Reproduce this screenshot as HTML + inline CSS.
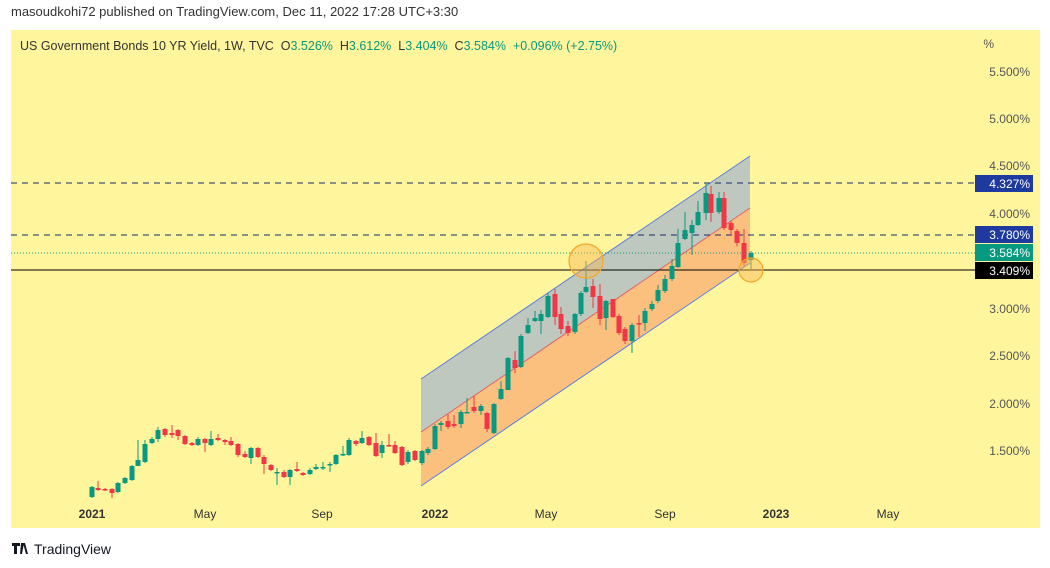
<!DOCTYPE html>
<html><head><meta charset="utf-8"><style>
body{margin:0;width:1050px;height:568px;background:#fff;font-family:"Liberation Sans",sans-serif;overflow:hidden;position:relative}
.hdr{position:absolute;left:11px;top:4px;font-size:13px;color:#333}
</style></head><body>
<div class="hdr">masoudkohi72 published on TradingView.com, Dec 11, 2022 17:28 UTC+3:30</div>
<svg id="c" width="1050" height="568" style="position:absolute;left:0;top:0">
<rect x="11" y="30" width="1029" height="498" fill="#FFF59D"/>
<polygon points="421,379 750,156 750,208 421,432" fill="#BFC8BE"/>
<polygon points="421,432 750,208 750,263 421,486" fill="#FBC07E"/>
<line x1="421" y1="379" x2="750" y2="156" stroke="#5B7FE0" stroke-width="1"/>
<line x1="421" y1="432" x2="750" y2="208" stroke="#E2626A" stroke-width="1"/>
<line x1="421" y1="486" x2="750" y2="263" stroke="#5B7FE0" stroke-width="1"/>
<line x1="11" y1="183" x2="975" y2="183" stroke="#1a2a6a" stroke-dasharray="6,5"/>
<line x1="11" y1="235" x2="975" y2="235" stroke="#1a2a6a" stroke-dasharray="6,5"/>
<line x1="11" y1="253" x2="975" y2="253" stroke="#089981" stroke-dasharray="1,2"/>
<line x1="11" y1="270" x2="975" y2="270" stroke="#000" stroke-width="1"/>
<g id="cd"></g>
<circle cx="586" cy="261" r="17" fill="#F7B955" fill-opacity="0.45" stroke="#F5A623" stroke-width="1.2"/>
<circle cx="751" cy="270" r="12" fill="#F7B955" fill-opacity="0.45" stroke="#F5A623" stroke-width="1.2"/>
<g font-size="12" fill="#555" text-anchor="end">
<text x="1030" y="76">5.500%</text><text x="1030" y="123">5.000%</text><text x="1030" y="170">4.500%</text><text x="1030" y="218">4.000%</text><text x="1030" y="313">3.000%</text><text x="1030" y="360">2.500%</text><text x="1030" y="408">2.000%</text><text x="1030" y="455">1.500%</text>
<text x="994" y="48">%</text>
</g>
<rect x="975" y="175" width="58" height="17" fill="#1E3A9E"/><text x="1030" y="188" font-size="12" fill="#fff" text-anchor="end">4.327%</text>
<rect x="975" y="226" width="58" height="17" fill="#1E3A9E"/><text x="1030" y="239" font-size="12" fill="#fff" text-anchor="end">3.780%</text>
<rect x="975" y="244" width="58" height="17" fill="#089981"/><text x="1030" y="257" font-size="12" fill="#fff" text-anchor="end">3.584%</text>
<rect x="975" y="262" width="58" height="17" fill="#000"/><text x="1030" y="275" font-size="12" fill="#fff" text-anchor="end">3.409%</text>
<g font-size="12" fill="#333" text-anchor="middle" font-weight="bold">
<text x="92" y="518">2021</text><text x="435" y="518">2022</text><text x="776" y="518">2023</text></g>
<g font-size="12" fill="#333" text-anchor="middle">
<text x="205" y="518">May</text><text x="322" y="518">Sep</text><text x="546" y="518">May</text><text x="665" y="518">Sep</text><text x="888" y="518">May</text></g>
<text x="20" y="50" font-size="12.5" fill="#333" style="white-space:pre" xml:space="preserve">US Government Bonds 10 YR Yield, 1W, TVC  O<tspan fill="#089981">3.526%</tspan>  H<tspan fill="#089981">3.612%</tspan>  L<tspan fill="#089981">3.404%</tspan>  C<tspan fill="#089981">3.584%</tspan>  <tspan fill="#089981">+0.096% (+2.75%)</tspan></text>
<path d="M12 543h8v3h-3v8h-3v-8h-2z M21 543h3l-2 11h-2z M25 543l3 11h-2l-3-11z" fill="#131722"/>
<text x="34" y="554" font-size="14" fill="#131722">TradingView</text>
</svg>
<script>
var d=[[92,497,487,498,486],[98,488,490,481,491],[105,489,490,488,491],[112,489,493,488,498],[118,492,483,493,482],[125,483,478,484,477],[132,480,466,481,465],[138,466,460,466,440],[145,462,444,463,440],[152,443,439,444,437],[158,439,430,442,427],[165,429,435,428,437],[172,433,435,425,438],[178,430,436,429,440],[185,436,444,435,445],[192,443,445,442,446],[198,445,439,446,437],[205,439,443,438,452],[211,445,439,446,431],[218,438,440,434,441],[225,440,442,439,445],[231,441,445,437,446],[238,444,455,443,457],[245,454,457,451,458],[251,458,448,464,447],[258,448,457,447,458],[264,457,464,455,474],[271,465,470,464,471],[277,473,472,485,468],[284,472,477,470,478],[290,477,470,485,469],[297,469,471,462,472],[303,473,475,472,476],[310,474,470,475,468],[316,469,467,470,464],[323,468,467,470,462],[330,465,464,472,462],[336,464,455,465,454],[343,455,454,456,446],[349,455,440,456,438],[356,441,444,440,446],[362,443,438,444,431],[369,437,445,436,446],[376,443,456,433,457],[382,453,445,458,441],[389,445,446,434,447],[395,445,453,441,454],[402,447,465,446,466],[408,462,452,464,450],[415,451,460,450,461],[422,463,451,465,450],[428,453,449,455,447],[435,449,426,450,424],[441,425,423,431,421],[448,421,427,414,429],[454,424,426,415,428],[461,424,412,428,410],[467,413,412,413,398],[474,407,411,396,413],[481,411,406,415,404],[487,413,429,412,432],[494,433,404,434,403],[501,399,389,400,381],[508,390,358,390,357],[515,360,368,351,373],[521,367,336,368,334],[528,333,325,334,318],[535,321,318,322,311],[541,321,314,334,310],[548,317,296,318,293],[555,294,317,289,325],[561,314,329,307,334],[568,326,333,321,336],[575,332,314,334,313],[581,314,293,316,291],[586,292,287,293,261],[593,286,297,279,308],[600,296,319,284,325],[606,318,301,330,300],[613,299,317,301,318],[619,316,333,314,335],[625,329,341,327,344],[632,341,325,353,323],[639,323,324,315,337],[645,323,311,331,308],[652,309,304,311,301],[658,301,290,303,285],[665,291,279,293,275],[672,279,266,281,259],[678,267,243,268,229],[685,239,230,240,212],[692,233,225,255,220],[698,225,212,226,201],[706,213,193,220,183],[711,194,213,186,222],[719,212,198,214,192],[724,198,228,192,230],[731,223,230,221,234],[737,231,243,229,246],[744,243,263,229,266],[751,260,253,270,251]];
var g=document.getElementById('cd'),s='';
d.forEach(function(k){var x=k[0],o=k[1],c=k[2],up=c<o,col=up?'#089981':'#F23645';
var t=Math.min(o,c),b=Math.max(o,c),h=Math.min(k[3],k[4],t),l=Math.max(k[3],k[4],b);
s+='<line x1="'+x+'" x2="'+x+'" y1="'+h+'" y2="'+l+'" stroke="'+col+'" stroke-width="1"/>';
s+='<rect x="'+(x-2.5)+'" y="'+t+'" width="5" height="'+Math.max(b-t,1.5)+'" fill="'+col+'"/>';});
g.innerHTML=s;
</script>
</body></html>
